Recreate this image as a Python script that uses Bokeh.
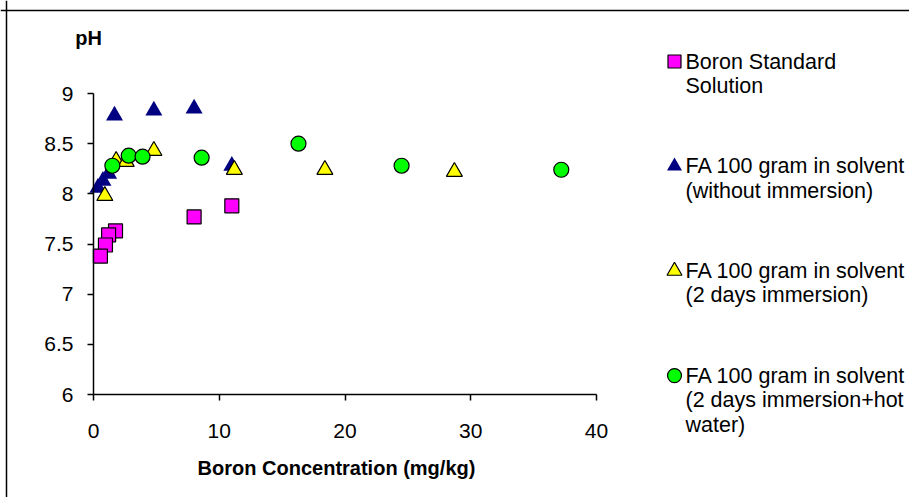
from bokeh.plotting import figure
from bokeh.models import Range1d, FixedTicker, Label, ColumnDataSource, LinearAxis, Span
from bokeh.embed import file_html
from bokeh.resources import INLINE
from bokeh.core.properties import value

# ---- data ----
std_x = [11.0, 8.0, 1.75, 1.2, 0.95, 0.55]
std_y = [7.88, 7.77, 7.63, 7.59, 7.49, 7.38]

noimm_x = [0.35, 0.75, 1.2, 1.67, 4.8, 8.0, 11.0]
noimm_y = [8.06, 8.13, 8.20, 8.78, 8.83, 8.85, 8.28]

imm_x = [0.9, 1.8, 2.6, 4.8, 11.2, 18.4, 28.7]
imm_y = [7.98, 8.33, 8.32, 8.43, 8.24, 8.24, 8.22]

hot_x = [1.5, 2.8, 3.9, 8.6, 16.3, 24.5, 37.2]
hot_y = [8.28, 8.38, 8.37, 8.36, 8.50, 8.28, 8.24]

x_ticks = [0, 10, 20, 30, 40]
y_ticks = [6, 6.5, 7, 7.5, 8, 8.5, 9]

legend_labels = [
    ["Boron Standard", "Solution"],
    ["FA 100 gram in solvent", "(without immersion)"],
    ["FA 100 gram in solvent", "(2 days immersion)"],
    ["FA 100 gram in solvent", "(2 days immersion+hot", "water)"],
]

FONT = "Liberation Sans"

series = [
    dict(x=std_x, y=std_y, marker="square", fill="#FF00FF", line="black", size=14, lsize=13),
    dict(x=noimm_x, y=noimm_y, marker="triangle", fill="#000080", line=None, size=17, lsize=15),
    dict(x=imm_x, y=imm_y, marker="triangle", fill="#FFFF00", line="black", size=16, lsize=15),
    dict(x=hot_x, y=hot_y, marker="circle", fill="#00FF00", line="black", size=15, lsize=14),
]

# ---- canvas geometry: the frame covers the whole canvas ----
W, H = 909, 497
PX_X0, PX_X40 = 93, 596      # canvas px of x=0 and x=40
PX_Y9, PX_Y6 = 93, 394       # canvas px (from top) of y=9 and y=6
sx = (PX_X40 - PX_X0) / 40.0
sy = (PX_Y6 - PX_Y9) / 3.0


def dx(px):
    return (px - PX_X0) / sx


def dy(py):
    return 9 - (py - PX_Y9) / sy


p = figure(width=W, height=H, output_backend="svg", toolbar_location=None,
           x_range=Range1d(dx(0), dx(W)), y_range=Range1d(dy(H), dy(0)),
           x_axis_location=None, y_axis_location=None, min_border=0, title=None)
p.outline_line_color = None
p.grid.visible = False
p.background_fill_color = "white"
p.border_fill_color = "white"

for s in series:
    p.scatter(s["x"], s["y"], marker=s["marker"], size=s["size"],
              fill_color=s["fill"], line_color=s["line"], line_width=1.2)

xaxis = LinearAxis(fixed_location=6, bounds=(0, 40), ticker=FixedTicker(ticks=x_ticks))
yaxis = LinearAxis(fixed_location=0, bounds=(6, 9), ticker=FixedTicker(ticks=y_ticks))
xaxis.major_label_overrides = {t: f"{t:g}" for t in x_ticks}
yaxis.major_label_overrides = {t: f"{t:g}" for t in y_ticks}
xaxis.major_label_standoff = 23
yaxis.major_label_standoff = 14
for ax in (xaxis, yaxis):
    ax.axis_line_color = "black"
    ax.axis_line_width = 1.5
    ax.major_tick_line_color = "black"
    ax.major_tick_line_width = 1.5
    ax.major_tick_out = 6
    ax.major_tick_in = 0
    ax.minor_tick_line_color = None
    ax.major_label_text_font = FONT
    ax.major_label_text_font_size = "21px"
    ax.major_label_text_color = "black"
p.add_layout(xaxis, "below")
p.add_layout(yaxis, "left")

p.add_layout(Label(x=dx(88), y=dy(37), text="pH", text_font=FONT, text_font_size="20px",
                   text_font_style="bold", text_align="center", text_baseline="middle",
                   text_color="black"))
p.add_layout(Label(x=dx(336), y=dy(467), text="Boron Concentration (mg/kg)", text_font=FONT,
                   text_font_size="20px", text_font_style="bold", text_align="center",
                   text_baseline="middle", text_color="black"))

# chart-area border (left and top edges)
p.add_layout(Span(location=dx(6), dimension="height", line_color="black", line_width=1.5))
p.add_layout(Span(location=dy(10), dimension="width", line_color="black", line_width=1.5))

# ---- legend ----
mk_x, ent_y, line_h, entry_gap = 674, 61, 24.5, 104.7
tx, ty, tt = [], [], []
for i, (s, lines) in enumerate(zip(series, legend_labels)):
    y0 = ent_y + i * entry_gap
    p.scatter([dx(mk_x)], [dy(y0)], marker=s["marker"], size=s["lsize"],
              fill_color=s["fill"], line_color=s["line"], line_width=1.2)
    for j, ln in enumerate(lines):
        tx.append(dx(685))
        ty.append(dy(y0 + j * line_h))
        tt.append(ln)
p.text(x="x", y="y", text="text", source=ColumnDataSource(dict(x=tx, y=ty, text=tt)),
       text_font=value(FONT), text_font_size="21.5px", text_baseline="middle",
       text_align="left", text_color="black")

open("out.html", "w").write(file_html(p, INLINE))
